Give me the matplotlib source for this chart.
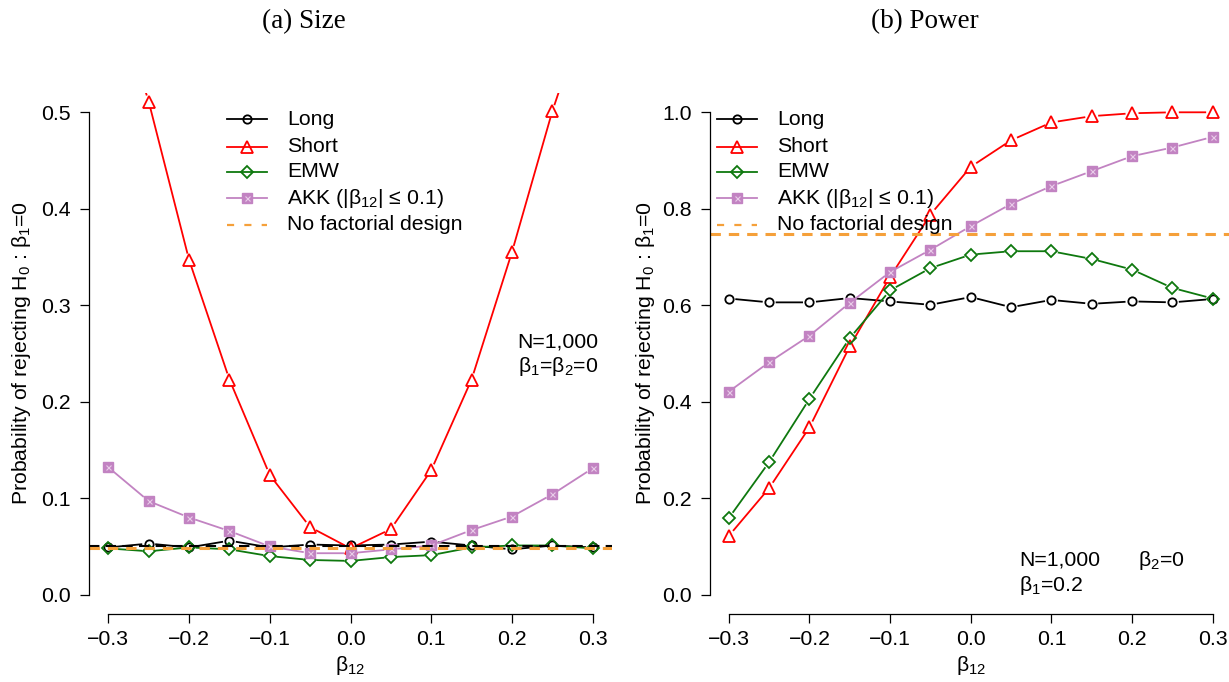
import numpy as np
import matplotlib
matplotlib.use("Agg")
import matplotlib.pyplot as plt

plt.rcParams['font.family'] = ['Liberation Sans', 'DejaVu Sans']
plt.rcParams['mathtext.fontset'] = 'custom'
plt.rcParams['mathtext.rm'] = 'Liberation Sans'
plt.rcParams['mathtext.it'] = 'Liberation Sans:italic'
plt.rcParams['mathtext.bf'] = 'Liberation Sans:bold'
plt.rcParams['mathtext.default'] = 'regular'

# ---------------- data ----------------
beta12 = [-0.30, -0.25, -0.20, -0.15, -0.10, -0.05, 0.00, 0.05, 0.10, 0.15, 0.20, 0.25, 0.30]

size_long = [0.049, 0.053, 0.049, 0.056, 0.049, 0.052, 0.051, 0.052, 0.055, 0.051, 0.047, 0.051, 0.049]
size_short = [0.645, 0.511, 0.347, 0.223, 0.124, 0.070, 0.048, 0.068, 0.129, 0.223, 0.355, 0.501, 0.625]
size_emw = [0.048, 0.045, 0.049, 0.047, 0.040, 0.036, 0.035, 0.039, 0.041, 0.049, 0.051, 0.051, 0.048]
size_akk = [0.132, 0.097, 0.080, 0.066, 0.050, 0.043, 0.043, 0.047, 0.051, 0.067, 0.081, 0.104, 0.131]
size_nominal = 0.05
size_nofactorial = 0.0487

power_long = [0.614, 0.606, 0.606, 0.615, 0.608, 0.601, 0.617, 0.596, 0.611, 0.603, 0.608, 0.606, 0.613]
power_short = [0.122, 0.221, 0.347, 0.515, 0.659, 0.788, 0.887, 0.942, 0.979, 0.992, 0.998, 1.000, 1.000]
power_emw = [0.159, 0.275, 0.406, 0.532, 0.631, 0.677, 0.705, 0.712, 0.712, 0.696, 0.674, 0.636, 0.614]
power_akk = [0.421, 0.482, 0.537, 0.605, 0.669, 0.715, 0.764, 0.810, 0.847, 0.878, 0.909, 0.927, 0.949]
power_nofactorial = 0.747

series_names = ["Long", "Short", "EMW", r"AKK (|β$_{12}$| ≤ 0.1)", "No factorial design"]
xticks = [-0.3, -0.2, -0.1, 0.0, 0.1, 0.2, 0.3]
xtick_labels = ["−0.3", "−0.2", "−0.1", "0.0", "0.1", "0.2", "0.3"]
size_yticks = [0.0, 0.1, 0.2, 0.3, 0.4, 0.5]
power_yticks = [0.0, 0.2, 0.4, 0.6, 0.8, 1.0]

# ---------------- style ----------------
C_LONG = 'black'
C_SHORT = '#FF0000'
C_EMW = '#0E780E'
C_AKK = '#C283C2'
C_ORANGE = '#F5A03A'
FS = 15.3
LW = 1.3
MEW = 1.3

W, H = 1229, 682
fig = plt.figure(figsize=(W / 100, H / 100), dpi=100)


def px_axes(x0, x1, y_top, y_bot):
    return fig.add_axes([x0 / W, 1 - y_bot / H, (x1 - x0) / W, (y_bot - y_top) / H])


axL = px_axes(89, 612, 93, 614)
axR = px_axes(709.5, 1232, 93, 614)


def b_line(ax, x, y, color, gap=6.5):
    """R type='b' line: segments that stop short of each point."""
    pts = ax.transData.transform(np.column_stack([x, y]))
    inv = ax.transData.inverted()
    xs, ys = [], []
    for p0, p1 in zip(pts[:-1], pts[1:]):
        d = p1 - p0
        L = np.hypot(*d)
        if L <= 2 * gap:
            continue
        a = p0 + d / L * gap
        b = p1 - d / L * gap
        da, db = inv.transform([a, b])
        xs += [da[0], db[0], np.nan]
        ys += [da[1], db[1], np.nan]
    ax.plot(xs, ys, color=color, lw=LW, solid_capstyle='butt')


def markers(ax, x, y, kind, transform=None, clip=True):
    kw = dict(ls='none', clip_on=clip)
    if transform is not None:
        kw['transform'] = transform
    if kind == 'long':
        ax.plot(x, y, marker='o', ms=6.0, mfc='none', mec=C_LONG, mew=MEW, **kw)
    elif kind == 'short':
        ax.plot(x, y, marker='^', ms=8.5, mfc='none', mec=C_SHORT, mew=MEW, **kw)
    elif kind == 'emw':
        ax.plot(x, y, marker='D', ms=6.3, mfc='none', mec=C_EMW, mew=MEW, **kw)
    elif kind == 'akk':
        ax.plot(x, y, marker='s', ms=6.8, mfc=C_AKK, mec=C_AKK, mew=1.0, **kw)
        ax.plot(x, y, marker='x', ms=3.6, mfc='none', mec='#E9CDE9', mew=0.8, **kw)


def setup(ax, ylim, yticks):
    ax.set_xlim(-0.324, 0.324)
    ax.set_ylim(*ylim)
    for s in ['top', 'right']:
        ax.spines[s].set_visible(False)
    ax.spines['left'].set_bounds(yticks[0], yticks[-1])
    ax.spines['bottom'].set_bounds(-0.3, 0.3)
    ax.spines['bottom'].set_position(('outward', 0))
    for s in ['left', 'bottom']:
        ax.spines[s].set_linewidth(0.9)
    ax.set_xticks(xticks)
    ax.set_xticklabels(xtick_labels)
    ax.set_yticks(yticks)
    ax.set_yticklabels([f"{v:.1f}" for v in yticks])
    ax.tick_params(axis='both', direction='out', length=6.6, width=0.9, labelsize=FS)
    ax.tick_params(axis='x', pad=5.2)
    ax.tick_params(axis='y', pad=6.4)
    ax.set_xlabel(r"$\beta_{12}$", fontsize=FS)
    ax.xaxis.set_label_coords(0.5, -0.098)
    ax.xaxis.label.set_va('center')
    ax.set_ylabel(r"Probability of rejecting H$_0$ : β$_1$=0", fontsize=FS)
    ax.yaxis.label.set_va('center')


def legend(ax, x0, x1, xt, rows):
    kinds = [('long', C_LONG), ('short', C_SHORT), ('emw', C_EMW), ('akk', C_AKK)]
    tr = ax.transAxes
    for (kind, c), yy, name in zip(kinds, rows[:4], series_names[:4]):
        ax.plot([x0, x1], [yy, yy], color=c, lw=LW, transform=tr, clip_on=False)
        markers(ax, [(x0 + x1) / 2], [yy], kind, transform=tr, clip=False)
        ax.text(xt, yy, name, transform=tr, fontsize=FS, va='center', ha='left')
    yy = rows[4]
    ax.plot([x0, x1], [yy, yy], color=C_ORANGE, lw=1.6, ls=(0, (3.2, 4.6)),
            transform=tr, clip_on=False)
    ax.text(xt, yy, series_names[4], transform=tr, fontsize=FS, va='center', ha='left')


# ---------------- (a) Size ----------------
setup(axL, (-0.02, 0.52), size_yticks)
for yv, kind, c in [(size_long, 'long', C_LONG), (size_short, 'short', C_SHORT),
                    (size_emw, 'emw', C_EMW), (size_akk, 'akk', C_AKK)]:
    b_line(axL, beta12, yv, c)
    markers(axL, beta12, yv, kind)
axL.axhline(size_nominal, color='black', lw=1.5, ls=(0, (5, 3)))
axL.axhline(size_nofactorial, color=C_ORANGE, lw=2.2, ls=(0, (3.4, 2.6)))
axL.yaxis.set_label_coords(-0.130, 0.5)
rowsL = [(614 - v) / 521 for v in (119.3, 146.7, 171.7, 198.3, 225.0)]
legend(axL, (227 - 89) / 523, (267 - 89) / 523, (287 - 89) / 523, rowsL)
axL.text(0.207, 0.262, "N=1,000", fontsize=FS, va='center', ha='left')
axL.text(0.207, 0.237, r"β$_1$=β$_2$=0", fontsize=FS, va='center', ha='left')

# ---------------- (b) Power ----------------
setup(axR, (-0.04, 1.04), power_yticks)
for yv, kind, c in [(power_long, 'long', C_LONG), (power_short, 'short', C_SHORT),
                    (power_emw, 'emw', C_EMW), (power_akk, 'akk', C_AKK)]:
    b_line(axR, beta12, yv, c)
    markers(axR, beta12, yv, kind)
axR.axhline(power_nofactorial, color=C_ORANGE, lw=2.2, ls=(0, (3.4, 2.6)))
axR.yaxis.set_label_coords(-0.123, 0.5)
rowsR = [(614 - v) / 521 for v in (119.3, 146.7, 171.7, 198.3, 225.0)]
legend(axR, (717 - 709.5) / 522.5, (757 - 709.5) / 522.5, (777 - 709.5) / 522.5, rowsR)
axR.text(0.060, 0.071, "N=1,000", fontsize=FS, va='center', ha='left')
axR.text(0.208, 0.071, r"β$_2$=0", fontsize=FS, va='center', ha='left')
axR.text(0.060, 0.020, r"β$_1$=0.2", fontsize=FS, va='center', ha='left')

# ---------------- titles ----------------
fig.text(304 / W, 1 - 22 / H, "(a) Size", family=['Liberation Serif', 'DejaVu Serif'],
         fontsize=19.5, ha='center', va='center')
fig.text(925 / W, 1 - 22 / H, "(b) Power", family=['Liberation Serif', 'DejaVu Serif'],
         fontsize=19.5, ha='center', va='center')

fig.savefig("out.png", dpi=100)
